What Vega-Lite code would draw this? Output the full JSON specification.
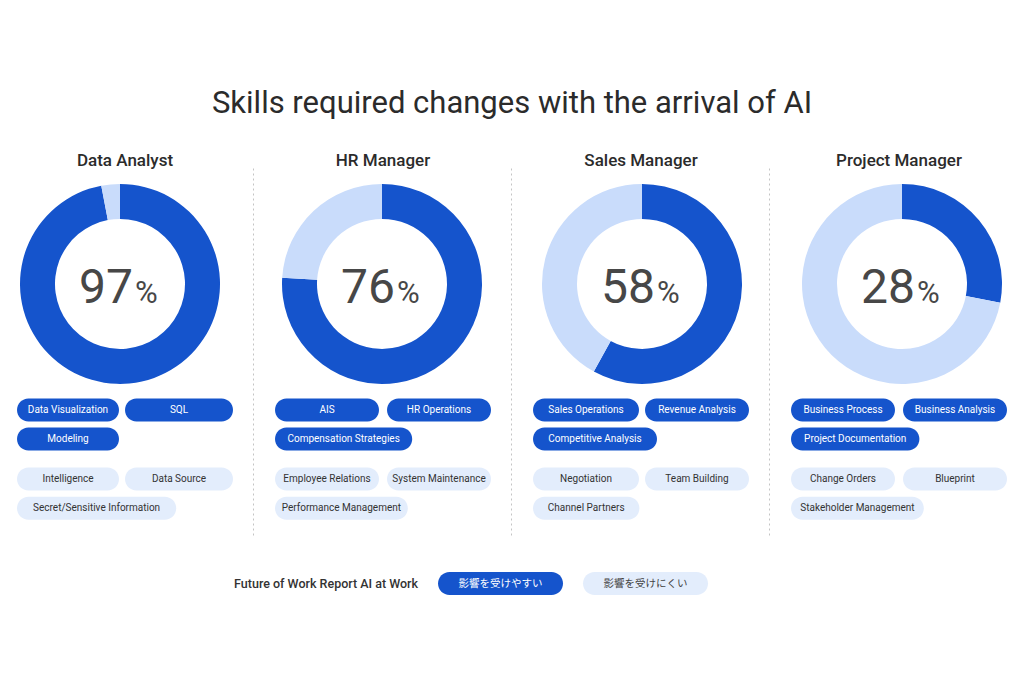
{
  "$schema": "https://vega.github.io/schema/vega-lite/v6.json",
  "background": "white",
  "padding": {"left": 17, "top": 88, "right": 0, "bottom": 0},
  "title": {"text": "Skills required changes with the arrival of AI", "fontSize": 31, "font": "Roboto", "fontWeight": 400, "color": "#2b2b2b", "anchor": "middle", "offset": 32},
  "config": {"view": {"stroke": null}},
  "datasets": {
    "donut": [
      {"role": "Data Analyst", "group": "affected", "share": 97},
      {"role": "Data Analyst", "group": "less", "share": 3},
      {"role": "HR Manager", "group": "affected", "share": 76},
      {"role": "HR Manager", "group": "less", "share": 24},
      {"role": "Sales Manager", "group": "affected", "share": 58},
      {"role": "Sales Manager", "group": "less", "share": 42},
      {"role": "Project Manager", "group": "affected", "share": 28},
      {"role": "Project Manager", "group": "less", "share": 72}
    ],
    "skills": [
      {"role": "Data Analyst", "group": "affected", "slot": 0, "skill": "Data Visualization"},
      {"role": "Data Analyst", "group": "affected", "slot": 1, "skill": "SQL"},
      {"role": "Data Analyst", "group": "affected", "slot": 2, "skill": "Modeling"},
      {"role": "Data Analyst", "group": "less", "slot": 0, "skill": "Intelligence"},
      {"role": "Data Analyst", "group": "less", "slot": 1, "skill": "Data Source"},
      {"role": "Data Analyst", "group": "less", "slot": 2, "skill": "Secret/Sensitive Information"},
      {"role": "HR Manager", "group": "affected", "slot": 0, "skill": "AIS"},
      {"role": "HR Manager", "group": "affected", "slot": 1, "skill": "HR Operations"},
      {"role": "HR Manager", "group": "affected", "slot": 2, "skill": "Compensation Strategies"},
      {"role": "HR Manager", "group": "less", "slot": 0, "skill": "Employee Relations"},
      {"role": "HR Manager", "group": "less", "slot": 1, "skill": "System Maintenance"},
      {"role": "HR Manager", "group": "less", "slot": 2, "skill": "Performance Management"},
      {"role": "Sales Manager", "group": "affected", "slot": 0, "skill": "Sales Operations"},
      {"role": "Sales Manager", "group": "affected", "slot": 1, "skill": "Revenue Analysis"},
      {"role": "Sales Manager", "group": "affected", "slot": 2, "skill": "Competitive Analysis"},
      {"role": "Sales Manager", "group": "less", "slot": 0, "skill": "Negotiation"},
      {"role": "Sales Manager", "group": "less", "slot": 1, "skill": "Team Building"},
      {"role": "Sales Manager", "group": "less", "slot": 2, "skill": "Channel Partners"},
      {"role": "Project Manager", "group": "affected", "slot": 0, "skill": "Business Process"},
      {"role": "Project Manager", "group": "affected", "slot": 1, "skill": "Business Analysis"},
      {"role": "Project Manager", "group": "affected", "slot": 2, "skill": "Project Documentation"},
      {"role": "Project Manager", "group": "less", "slot": 0, "skill": "Change Orders"},
      {"role": "Project Manager", "group": "less", "slot": 1, "skill": "Blueprint"},
      {"role": "Project Manager", "group": "less", "slot": 2, "skill": "Stakeholder Management"}
    ],
    "legend": [
      {"item": "Future of Work Report AI at Work", "kind": "label"},
      {"item": "影響を受けやすい", "kind": "affected"},
      {"item": "影響を受けにくい", "kind": "less"}
    ]
  },
  "spacing": 34,
  "vconcat": [
    {
      "bounds": "flush",
      "spacing": 42,
      "hconcat": [
        {
          "width": 216, "height": 370,
          "title": {"text": "Data Analyst", "fontSize": 17, "font": "Roboto", "fontWeight": 500, "color": "#2b2b2b", "offset": -2, "anchor": "middle"},
          "layer": [
            {
              "data": {"name": "donut"},
              "transform": [{"filter": {"field": "role", "equal": "Data Analyst"}}],
              "mark": {"type": "arc", "outerRadius": 100, "innerRadius": 65},
              "encoding": {
                "theta": {"field": "share", "type": "quantitative", "stack": true},
                "order": {"field": "group"},
                "color": {"field": "group", "type": "nominal", "scale": {"domain": ["affected", "less"], "range": ["#1554cc", "#c9dcfb"]}, "legend": null},
                "x": {"datum": 103, "type": "quantitative", "scale": {"domain": [0, 216], "nice": false, "zero": false}, "axis": null},
                "y": {"datum": 114, "type": "quantitative", "scale": {"domain": [0, 370], "nice": false, "zero": false, "reverse": true}, "axis": null}
              }
            },
            {
              "data": {"name": "donut"},
              "transform": [{"filter": {"field": "role", "equal": "Data Analyst"}}, {"filter": {"field": "group", "equal": "affected"}}],
              "mark": {"type": "text", "align": "right", "baseline": "alphabetic", "dx": 13, "dy": 19, "fontSize": 48, "font": "Roboto", "color": "#474747"},
              "encoding": {"text": {"field": "share"}, "x": {"datum": 103, "type": "quantitative"}, "y": {"datum": 114, "type": "quantitative"}}
            },
            {
              "data": {"name": "donut"},
              "transform": [{"filter": {"field": "role", "equal": "Data Analyst"}}, {"filter": {"field": "group", "equal": "affected"}}],
              "mark": {"type": "text", "text": "%", "align": "left", "baseline": "alphabetic", "dx": 15, "dy": 19, "fontSize": 31, "font": "Roboto", "color": "#474747"},
              "encoding": {"x": {"datum": 103, "type": "quantitative"}, "y": {"datum": 114, "type": "quantitative"}}
            },
            {
              "data": {"name": "skills"},
              "transform": [
                {"filter": {"field": "role", "equal": "Data Analyst"}},
                {"calculate": "datum.slot === 1 ? 108 : 0", "as": "x0"},
                {"calculate": "datum.slot === 2 ? max(102, length(datum.skill) * 4.4 + 36) : datum.x0 + (datum.slot === 1 ? 108 : 102)", "as": "x1"},
                {"calculate": "(datum.x0 + datum.x1) / 2", "as": "xm"},
                {"calculate": "243.5 + (datum.slot === 2 ? 30 : 0) + (datum.group === 'less' ? 71 : 0)", "as": "yc"}
              ],
              "layer": [
                {
                  "mark": {"type": "bar", "orient": "horizontal", "height": 23, "cornerRadius": 11.5},
                  "encoding": {
                    "x": {"field": "x0", "type": "quantitative"},
                    "x2": {"field": "x1"},
                    "y": {"field": "yc", "type": "quantitative"},
                    "color": {"condition": {"test": "datum.group === 'affected'", "value": "#1554cc"}, "value": "#e3edfc"}
                  }
                },
                {
                  "mark": {"type": "text", "align": "center", "baseline": "middle", "fontSize": 10, "font": "Roboto"},
                  "encoding": {
                    "x": {"field": "xm", "type": "quantitative"},
                    "y": {"field": "yc", "type": "quantitative"},
                    "text": {"field": "skill"},
                    "color": {"condition": {"test": "datum.group === 'affected'", "value": "#ffffff"}, "value": "#333333"}
                  }
                }
              ]
            }
          ]
        },
        {
          "width": 216, "height": 370,
          "title": {"text": "HR Manager", "fontSize": 17, "font": "Roboto", "fontWeight": 500, "color": "#2b2b2b", "offset": -2, "anchor": "middle"},
          "layer": [
            {
              "data": {"name": "donut"},
              "transform": [{"filter": {"field": "role", "equal": "HR Manager"}}],
              "mark": {"type": "arc", "outerRadius": 100, "innerRadius": 65},
              "encoding": {
                "theta": {"field": "share", "type": "quantitative", "stack": true},
                "order": {"field": "group"},
                "color": {"field": "group", "type": "nominal", "scale": {"domain": ["affected", "less"], "range": ["#1554cc", "#c9dcfb"]}, "legend": null},
                "x": {"datum": 107, "type": "quantitative", "scale": {"domain": [0, 216], "nice": false, "zero": false}, "axis": null},
                "y": {"datum": 114, "type": "quantitative", "scale": {"domain": [0, 370], "nice": false, "zero": false, "reverse": true}, "axis": {"orient": "left", "offset": 22, "domain": true, "domainDash": [2, 3], "domainColor": "#c4c4c4", "domainWidth": 1, "ticks": false, "labels": false, "title": null, "grid": false}}
              }
            },
            {
              "data": {"name": "donut"},
              "transform": [{"filter": {"field": "role", "equal": "HR Manager"}}, {"filter": {"field": "group", "equal": "affected"}}],
              "mark": {"type": "text", "align": "right", "baseline": "alphabetic", "dx": 13, "dy": 19, "fontSize": 48, "font": "Roboto", "color": "#474747"},
              "encoding": {"text": {"field": "share"}, "x": {"datum": 107, "type": "quantitative"}, "y": {"datum": 114, "type": "quantitative"}}
            },
            {
              "data": {"name": "donut"},
              "transform": [{"filter": {"field": "role", "equal": "HR Manager"}}, {"filter": {"field": "group", "equal": "affected"}}],
              "mark": {"type": "text", "text": "%", "align": "left", "baseline": "alphabetic", "dx": 15, "dy": 19, "fontSize": 31, "font": "Roboto", "color": "#474747"},
              "encoding": {"x": {"datum": 107, "type": "quantitative"}, "y": {"datum": 114, "type": "quantitative"}}
            },
            {
              "data": {"name": "skills"},
              "transform": [
                {"filter": {"field": "role", "equal": "HR Manager"}},
                {"calculate": "datum.slot === 1 ? 112 : 0", "as": "x0"},
                {"calculate": "datum.slot === 2 ? max(104, length(datum.skill) * 4.4 + 36) : datum.x0 + 104", "as": "x1"},
                {"calculate": "(datum.x0 + datum.x1) / 2", "as": "xm"},
                {"calculate": "243.5 + (datum.slot === 2 ? 30 : 0) + (datum.group === 'less' ? 71 : 0)", "as": "yc"}
              ],
              "layer": [
                {
                  "mark": {"type": "bar", "orient": "horizontal", "height": 23, "cornerRadius": 11.5},
                  "encoding": {
                    "x": {"field": "x0", "type": "quantitative"},
                    "x2": {"field": "x1"},
                    "y": {"field": "yc", "type": "quantitative"},
                    "color": {"condition": {"test": "datum.group === 'affected'", "value": "#1554cc"}, "value": "#e3edfc"}
                  }
                },
                {
                  "mark": {"type": "text", "align": "center", "baseline": "middle", "fontSize": 10, "font": "Roboto"},
                  "encoding": {
                    "x": {"field": "xm", "type": "quantitative"},
                    "y": {"field": "yc", "type": "quantitative"},
                    "text": {"field": "skill"},
                    "color": {"condition": {"test": "datum.group === 'affected'", "value": "#ffffff"}, "value": "#333333"}
                  }
                }
              ]
            }
          ]
        },
        {
          "width": 216, "height": 370,
          "title": {"text": "Sales Manager", "fontSize": 17, "font": "Roboto", "fontWeight": 500, "color": "#2b2b2b", "offset": -2, "anchor": "middle"},
          "layer": [
            {
              "data": {"name": "donut"},
              "transform": [{"filter": {"field": "role", "equal": "Sales Manager"}}],
              "mark": {"type": "arc", "outerRadius": 100, "innerRadius": 65},
              "encoding": {
                "theta": {"field": "share", "type": "quantitative", "stack": true},
                "order": {"field": "group"},
                "color": {"field": "group", "type": "nominal", "scale": {"domain": ["affected", "less"], "range": ["#1554cc", "#c9dcfb"]}, "legend": null},
                "x": {"datum": 109, "type": "quantitative", "scale": {"domain": [0, 216], "nice": false, "zero": false}, "axis": null},
                "y": {"datum": 114, "type": "quantitative", "scale": {"domain": [0, 370], "nice": false, "zero": false, "reverse": true}, "axis": {"orient": "left", "offset": 22, "domain": true, "domainDash": [2, 3], "domainColor": "#c4c4c4", "domainWidth": 1, "ticks": false, "labels": false, "title": null, "grid": false}}
              }
            },
            {
              "data": {"name": "donut"},
              "transform": [{"filter": {"field": "role", "equal": "Sales Manager"}}, {"filter": {"field": "group", "equal": "affected"}}],
              "mark": {"type": "text", "align": "right", "baseline": "alphabetic", "dx": 13, "dy": 19, "fontSize": 48, "font": "Roboto", "color": "#474747"},
              "encoding": {"text": {"field": "share"}, "x": {"datum": 109, "type": "quantitative"}, "y": {"datum": 114, "type": "quantitative"}}
            },
            {
              "data": {"name": "donut"},
              "transform": [{"filter": {"field": "role", "equal": "Sales Manager"}}, {"filter": {"field": "group", "equal": "affected"}}],
              "mark": {"type": "text", "text": "%", "align": "left", "baseline": "alphabetic", "dx": 15, "dy": 19, "fontSize": 31, "font": "Roboto", "color": "#474747"},
              "encoding": {"x": {"datum": 109, "type": "quantitative"}, "y": {"datum": 114, "type": "quantitative"}}
            },
            {
              "data": {"name": "skills"},
              "transform": [
                {"filter": {"field": "role", "equal": "Sales Manager"}},
                {"calculate": "datum.slot === 1 ? 112 : 0", "as": "x0"},
                {"calculate": "datum.slot === 2 ? max(106, length(datum.skill) * 4.4 + 36) : datum.x0 + (datum.slot === 1 ? 104 : 106)", "as": "x1"},
                {"calculate": "(datum.x0 + datum.x1) / 2", "as": "xm"},
                {"calculate": "243.5 + (datum.slot === 2 ? 30 : 0) + (datum.group === 'less' ? 71 : 0)", "as": "yc"}
              ],
              "layer": [
                {
                  "mark": {"type": "bar", "orient": "horizontal", "height": 23, "cornerRadius": 11.5},
                  "encoding": {
                    "x": {"field": "x0", "type": "quantitative"},
                    "x2": {"field": "x1"},
                    "y": {"field": "yc", "type": "quantitative"},
                    "color": {"condition": {"test": "datum.group === 'affected'", "value": "#1554cc"}, "value": "#e3edfc"}
                  }
                },
                {
                  "mark": {"type": "text", "align": "center", "baseline": "middle", "fontSize": 10, "font": "Roboto"},
                  "encoding": {
                    "x": {"field": "xm", "type": "quantitative"},
                    "y": {"field": "yc", "type": "quantitative"},
                    "text": {"field": "skill"},
                    "color": {"condition": {"test": "datum.group === 'affected'", "value": "#ffffff"}, "value": "#333333"}
                  }
                }
              ]
            }
          ]
        },
        {
          "width": 216, "height": 370,
          "title": {"text": "Project Manager", "fontSize": 17, "font": "Roboto", "fontWeight": 500, "color": "#2b2b2b", "offset": -2, "anchor": "middle"},
          "layer": [
            {
              "data": {"name": "donut"},
              "transform": [{"filter": {"field": "role", "equal": "Project Manager"}}],
              "mark": {"type": "arc", "outerRadius": 100, "innerRadius": 65},
              "encoding": {
                "theta": {"field": "share", "type": "quantitative", "stack": true},
                "order": {"field": "group"},
                "color": {"field": "group", "type": "nominal", "scale": {"domain": ["affected", "less"], "range": ["#1554cc", "#c9dcfb"]}, "legend": null},
                "x": {"datum": 111, "type": "quantitative", "scale": {"domain": [0, 216], "nice": false, "zero": false}, "axis": null},
                "y": {"datum": 114, "type": "quantitative", "scale": {"domain": [0, 370], "nice": false, "zero": false, "reverse": true}, "axis": {"orient": "left", "offset": 22, "domain": true, "domainDash": [2, 3], "domainColor": "#c4c4c4", "domainWidth": 1, "ticks": false, "labels": false, "title": null, "grid": false}}
              }
            },
            {
              "data": {"name": "donut"},
              "transform": [{"filter": {"field": "role", "equal": "Project Manager"}}, {"filter": {"field": "group", "equal": "affected"}}],
              "mark": {"type": "text", "align": "right", "baseline": "alphabetic", "dx": 13, "dy": 19, "fontSize": 48, "font": "Roboto", "color": "#474747"},
              "encoding": {"text": {"field": "share"}, "x": {"datum": 111, "type": "quantitative"}, "y": {"datum": 114, "type": "quantitative"}}
            },
            {
              "data": {"name": "donut"},
              "transform": [{"filter": {"field": "role", "equal": "Project Manager"}}, {"filter": {"field": "group", "equal": "affected"}}],
              "mark": {"type": "text", "text": "%", "align": "left", "baseline": "alphabetic", "dx": 15, "dy": 19, "fontSize": 31, "font": "Roboto", "color": "#474747"},
              "encoding": {"x": {"datum": 111, "type": "quantitative"}, "y": {"datum": 114, "type": "quantitative"}}
            },
            {
              "data": {"name": "skills"},
              "transform": [
                {"filter": {"field": "role", "equal": "Project Manager"}},
                {"calculate": "datum.slot === 1 ? 112 : 0", "as": "x0"},
                {"calculate": "datum.slot === 2 ? max(104, length(datum.skill) * 4.4 + 36) : datum.x0 + 104", "as": "x1"},
                {"calculate": "(datum.x0 + datum.x1) / 2", "as": "xm"},
                {"calculate": "243.5 + (datum.slot === 2 ? 30 : 0) + (datum.group === 'less' ? 71 : 0)", "as": "yc"}
              ],
              "layer": [
                {
                  "mark": {"type": "bar", "orient": "horizontal", "height": 23, "cornerRadius": 11.5},
                  "encoding": {
                    "x": {"field": "x0", "type": "quantitative"},
                    "x2": {"field": "x1"},
                    "y": {"field": "yc", "type": "quantitative"},
                    "color": {"condition": {"test": "datum.group === 'affected'", "value": "#1554cc"}, "value": "#e3edfc"}
                  }
                },
                {
                  "mark": {"type": "text", "align": "center", "baseline": "middle", "fontSize": 10, "font": "Roboto"},
                  "encoding": {
                    "x": {"field": "xm", "type": "quantitative"},
                    "y": {"field": "yc", "type": "quantitative"},
                    "text": {"field": "skill"},
                    "color": {"condition": {"test": "datum.group === 'affected'", "value": "#ffffff"}, "value": "#333333"}
                  }
                }
              ]
            }
          ]
        }
      ]
    },
    {
      "width": 691, "height": 23,
      "data": {"name": "legend"},
      "layer": [
        {
          "transform": [{"filter": "datum.kind !== 'label'"}],
          "mark": {"type": "bar", "cornerRadius": 11.5},
          "encoding": {
            "x": {"field": "item", "type": "nominal", "sort": null, "scale": {"domain": ["Future of Work Report AI at Work", "影響を受けやすい", "影響を受けにくい"], "paddingInner": 0.138, "paddingOuter": 0.952, "align": 1}, "axis": null},
            "color": {"condition": {"test": "datum.kind === 'affected'", "value": "#1554cc"}, "value": "#e3edfc"}
          }
        },
        {
          "transform": [{"filter": "datum.kind !== 'label'"}],
          "mark": {"type": "text", "align": "center", "baseline": "middle", "fontSize": 10.5, "font": "Noto Sans CJK JP"},
          "encoding": {
            "x": {"field": "item", "type": "nominal", "sort": null},
            "text": {"field": "item"},
            "color": {"condition": {"test": "datum.kind === 'affected'", "value": "#ffffff"}, "value": "#444444"}
          }
        },
        {
          "transform": [{"filter": "datum.kind === 'label'"}],
          "mark": {"type": "text", "align": "right", "baseline": "middle", "fontSize": 12.5, "font": "Roboto", "fontWeight": 500, "color": "#333333"},
          "encoding": {
            "x": {"field": "item", "type": "nominal", "sort": null, "bandPosition": 1},
            "text": {"field": "item"}
          }
        }
      ]
    }
  ]
}
